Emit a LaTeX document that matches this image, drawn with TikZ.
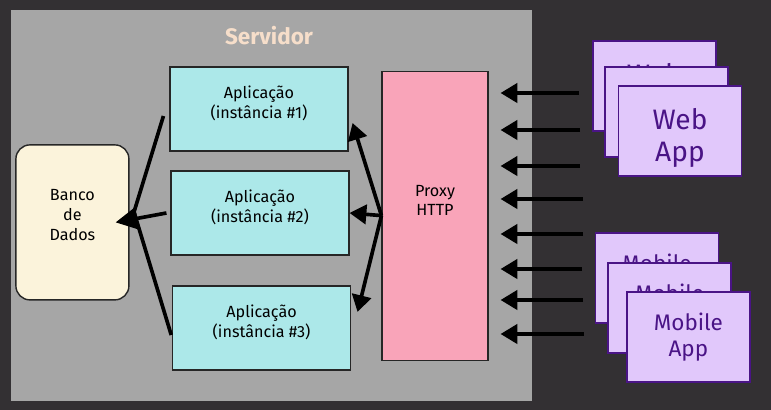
\documentclass[tikz,border=0pt]{standalone}
\usepackage{fontspec}
\setmainfont{Fira Sans}
\usetikzlibrary{arrows.meta}
\definecolor{bgdark}{RGB}{51,48,51}
\definecolor{servergray}{RGB}{166,166,166}
\definecolor{titlepeach}{RGB}{246,222,202}
\definecolor{appcyan}{RGB}{172,232,233}
\definecolor{dbcream}{RGB}{251,243,219}
\definecolor{proxypink}{RGB}{249,164,185}
\definecolor{cardlilac}{RGB}{225,200,251}
\definecolor{cardpurple}{RGB}{74,20,134}
\newcommand{\lowpad}[1]{\rule[-#1]{0pt}{#1}}
\newcommand{\toppad}[1]{\rule{0pt}{#1}}
\begin{document}
\begin{tikzpicture}[
    appbox/.style={rectangle, draw=black!85, fill=appcyan, line width=0.8pt, minimum width=4.45cm, minimum height=2.1cm, align=center, font=\fontsize{11.5}{14}\selectfont},
    dbbox/.style={rectangle, draw=black!85, fill=dbcream, line width=1pt, rounded corners=10pt, minimum width=2.825cm, minimum height=3.875cm, align=center, font=\fontsize{11.5}{14}\selectfont},
    proxybox/.style={rectangle, draw=black!85, fill=proxypink, line width=0.8pt, minimum width=2.65cm, minimum height=7.225cm, align=center, font=\fontsize{11.5}{13.5}\selectfont},
    card/.style={rectangle, draw=cardpurple, fill=cardlilac, text=cardpurple, line width=1.1pt, minimum width=3.075cm, minimum height=2.25cm, align=center},
    edge/.style={-{Triangle[length=0.42cm,width=0.48cm]}, line width=2.6pt, draw=black},
    link/.style={line width=2.6pt, draw=black},
]
\fill[bgdark] (0,0) rectangle (19.275,10.25);
\fill[servergray] (0.275,0.225) rectangle (13.3,10.0);
\node[text=titlepeach, font=\fontsize{16}{18}\selectfont\bfseries] (srv) at (6.725,9.35) {Servidor};
\node[dbbox] (db) at (1.81,4.69) {Banco\\de\\Dados\lowpad{10.5pt}};
\node[appbox] (a1) at (6.475,7.525) {Aplicação\\(instância \#1)\lowpad{10pt}};
\node[appbox] (a2) at (6.5,4.925) {Aplicação\\(instância \#2)\lowpad{10pt}};
\node[appbox] (a3) at (6.54,2.05) {Aplicação\\(instância \#3)\lowpad{10pt}};
\node[proxybox] (p) at (10.875,4.86) {Proxy\\HTTP\lowpad{21pt}};
\node[card, font=\fontsize{20}{23}\selectfont] (w1) at (16.36,8.1) {\toppad{25pt}Web\\App};
\node[card, font=\fontsize{20}{23}\selectfont] (w2) at (16.66,7.45) {\toppad{25pt}Web\\App};
\node[card, font=\fontsize{20}{23}\selectfont] (w3) at (17.0,6.975) {\toppad{25pt}Web\\App};
\node[card, font=\fontsize{16}{19}\selectfont] (m1) at (16.425,3.3) {Mobile\\App};
\node[card, font=\fontsize{16}{19}\selectfont] (m2) at (16.74,2.55) {Mobile\\App};
\node[card, font=\fontsize{16}{19}\selectfont] (m3) at (17.21,1.825) {Mobile\\App};
\coordinate (jn) at (3.35,4.95);
\draw[link] ([shift={(-0.15,-0.175)}]a1.west) -- (jn);
\draw[link] ([shift={(-0.02,-0.175)}]a3.west) -- (jn);
\draw[edge, -{Triangle[length=0.55cm,width=0.55cm]}] ([xshift=-0.1cm]a2.west) -- ([xshift=-0.35cm]db.east);
\draw[edge] (p.west) -- ([shift={(0.1,-0.35)}]a1.east);
\draw[edge] (p.west) -- (a2.east);
\draw[edge] (p.west) -- ([shift={(0.16,0.4)}]a3.east);
\coordinate (in1) at (14.475,7.925);
\coordinate (in2) at (14.5,7.0);
\coordinate (in3) at (14.5,6.1);
\coordinate (in4) at (14.575,5.275);
\coordinate (in5) at (14.575,4.4);
\coordinate (in6) at (14.55,3.525);
\coordinate (in7) at (14.575,2.75);
\coordinate (in8) at (14.6,1.9);
\draw[edge, shorten >=0.3cm] (in1) -- (p.east |- in1);
\draw[edge, shorten >=0.3cm] (in2) -- (p.east |- in2);
\draw[edge, shorten >=0.3cm] (in3) -- (p.east |- in3);
\draw[edge, shorten >=0.3cm] (in4) -- (p.east |- in4);
\draw[edge, shorten >=0.3cm] (in5) -- (p.east |- in5);
\draw[edge, shorten >=0.3cm] (in6) -- (p.east |- in6);
\draw[edge, shorten >=0.3cm] (in7) -- (p.east |- in7);
\draw[edge, shorten >=0.3cm] (in8) -- (p.east |- in8);
\end{tikzpicture}
\end{document}
